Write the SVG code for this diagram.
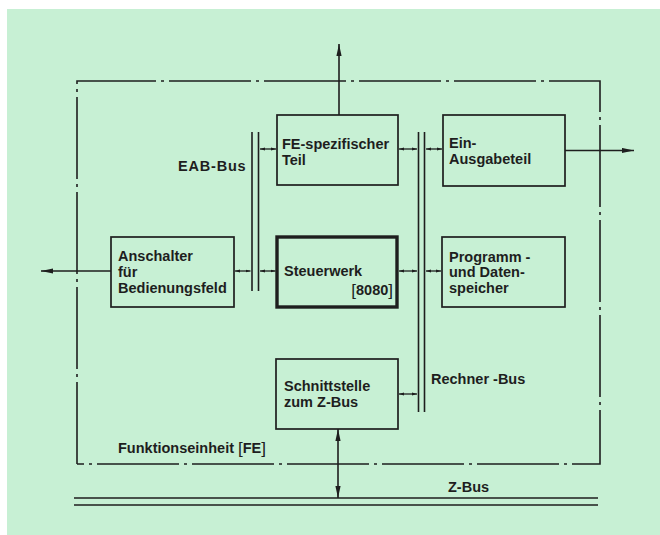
<svg xmlns="http://www.w3.org/2000/svg" width="660" height="535" viewBox="0 0 660 535">
<defs>
<style>
.bg{fill:#c7f0d4}
.box{fill:none;stroke:#1e1e1e;stroke-width:1.7}
.thick{fill:none;stroke:#1e1e1e;stroke-width:3.4}
.ln{fill:none;stroke:#1e1e1e;stroke-width:1.6}
.frame{fill:none;stroke:#1e1e1e;stroke-width:1.6;stroke-dasharray:82 5 3 5}
.arr{marker-end:url(#ah)}
.arr2{marker-start:url(#ah);marker-end:url(#ah)}
.sm{marker-start:url(#sh);marker-end:url(#sh);stroke-width:1.3}
text{font-family:"Liberation Sans",Arial,Helvetica,sans-serif;font-weight:bold;font-size:14.5px;fill:#1e1e1e}
.br{font-weight:normal;font-size:17px}
</style>
<marker id="ah" viewBox="0 0 12 6" refX="12" refY="3" markerWidth="12" markerHeight="6" markerUnits="userSpaceOnUse" orient="auto-start-reverse"><path d="M0,0.4 L12,3 L0,5.6 Z" fill="#1e1e1e"/></marker>
<marker id="sh" viewBox="0 0 5 4" refX="5" refY="2" markerWidth="5" markerHeight="4" markerUnits="userSpaceOnUse" orient="auto-start-reverse"><path d="M0,0.5 L5,2 L0,3.5 Z" fill="#1e1e1e"/></marker>
</defs>
<rect x="0" y="0" width="660" height="535" fill="#ffffff"/>
<rect class="bg" x="7" y="9" width="653" height="526"/>

<g id="frame">
<path class="frame" d="M77,464 V81 H600 V464 H77"/>
<text x="118" y="453">Funktionseinheit <tspan class="br" dy="1">[</tspan><tspan dy="-1">FE</tspan><tspan class="br" dy="1">]</tspan></text>
</g>

<g id="zbus">
<line class="ln" x1="74" y1="498" x2="598" y2="498"/>
<line class="ln" x1="74" y1="505" x2="598" y2="505"/>
<text x="448" y="492">Z-Bus</text>
</g>

<g id="eab-bus">
<line class="ln" x1="252" y1="132" x2="252" y2="291"/>
<line class="ln" x1="258.5" y1="132" x2="258.5" y2="291"/>
<text x="178" y="171" letter-spacing="0.8">EAB-Bus</text>
</g>

<g id="rechner-bus">
<line class="ln" x1="418.5" y1="132" x2="418.5" y2="412"/>
<line class="ln" x1="424.5" y1="132" x2="424.5" y2="412"/>
<text x="431" y="384">Rechner -Bus</text>
</g>

<g id="fe-teil">
<rect class="box" x="277" y="115" width="121" height="70"/>
<text x="282" y="149">FE-spezifischer</text>
<text x="282" y="165">Teil</text>
</g>

<g id="ein-ausgabe">
<rect class="box" x="443" y="115" width="122" height="71"/>
<text x="449" y="148">Ein-</text>
<text x="449" y="164">Ausgabeteil</text>
</g>

<g id="anschalter">
<rect class="box" x="111" y="237" width="123" height="70"/>
<text x="118" y="261">Anschalter</text>
<text x="118" y="277">für</text>
<text x="118" y="293">Bedienungsfeld</text>
</g>

<g id="steuerwerk">
<rect class="thick" x="277" y="237" width="120" height="70"/>
<text x="284" y="276">Steuerwerk</text>
<text x="393" y="295" text-anchor="end"><tspan class="br" dy="1">[</tspan><tspan dy="-1">8080</tspan><tspan class="br" dy="1">]</tspan></text>
</g>

<g id="speicher">
<rect class="box" x="442" y="237" width="123" height="70"/>
<text x="449" y="262">Programm -</text>
<text x="449" y="277">und Daten-</text>
<text x="449" y="293">speicher</text>
</g>

<g id="schnittstelle">
<rect class="box" x="276" y="359" width="122" height="70"/>
<text x="284" y="391">Schnittstelle</text>
<text x="284" y="407">zum Z-Bus</text>
</g>

<g id="connectors">
<line class="ln arr" x1="339" y1="115" x2="339" y2="44"/>
<line class="ln arr" x1="111" y1="271" x2="41" y2="271"/>
<line class="ln arr" x1="565" y1="150.5" x2="634" y2="150.5"/>
<line class="ln arr2" x1="338" y1="429" x2="338" y2="498"/>
<line class="ln sm" x1="260" y1="149" x2="276" y2="149"/>
<line class="ln sm" x1="399" y1="149" x2="417" y2="149"/>
<line class="ln sm" x1="426" y1="149" x2="442" y2="149"/>
<line class="ln sm" x1="235" y1="271" x2="250.5" y2="271"/>
<line class="ln sm" x1="260" y1="271" x2="275.5" y2="271"/>
<line class="ln sm" x1="399" y1="271" x2="417" y2="271"/>
<line class="ln sm" x1="426" y1="271" x2="441" y2="271"/>
<line class="ln sm" x1="399" y1="394" x2="417" y2="394"/>
</g>
</svg>
